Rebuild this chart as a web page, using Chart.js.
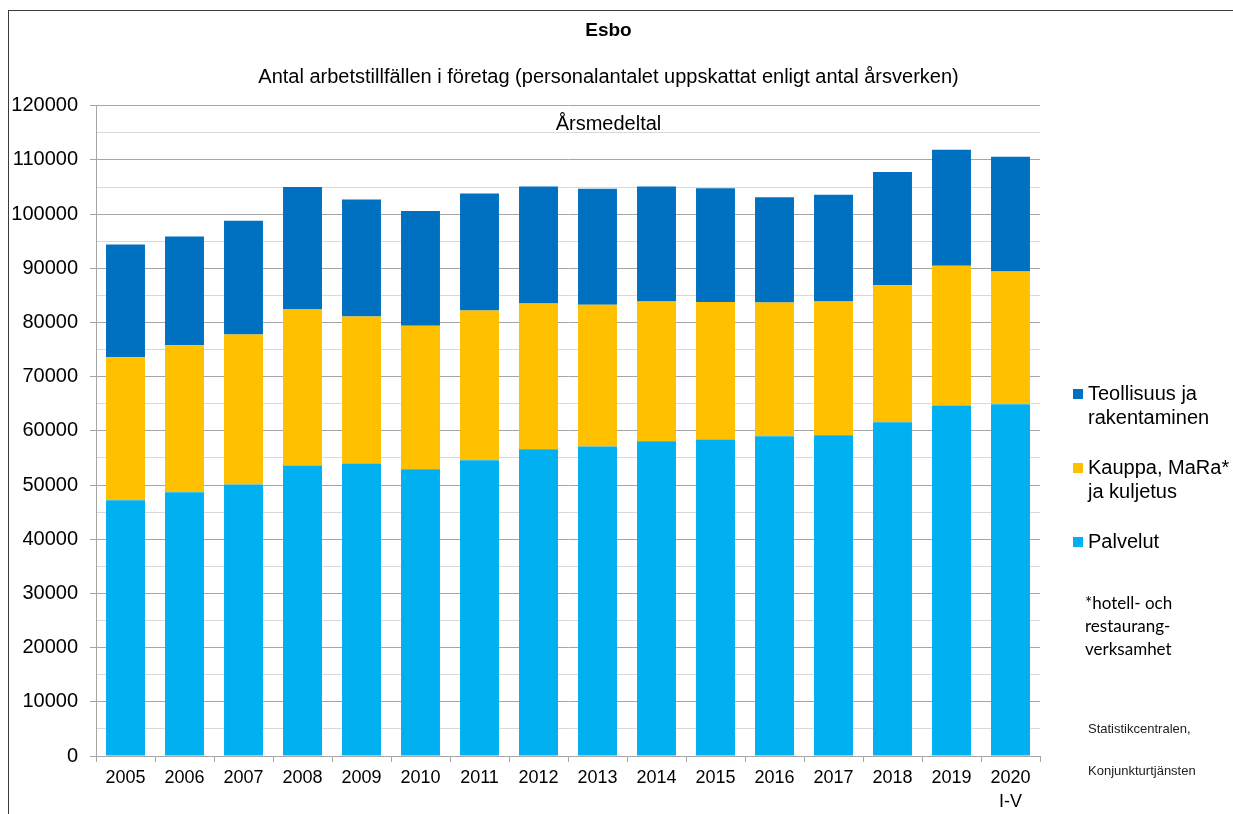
<!DOCTYPE html>
<html>
<head>
<meta charset="utf-8">
<script src="https://cdn.jsdelivr.net/npm/chart.js@4.4.1/dist/chart.umd.min.js"></script>
<style>
  html, body { margin: 0; padding: 0; background: #fff; }
  body { width: 1233px; height: 814px; position: relative; overflow: hidden; font-family: "Liberation Sans", Arial, sans-serif; }
  #frame { position: absolute; left: 8px; top: 10px; width: 1300px; height: 900px; border: 1px solid #3a3a3a; }
  #chart { position: absolute; left: 0; top: 0; }
  .box { position: absolute; left: 1073px; width: 10px; height: 10px; }
  .lg { position: absolute; left: 1088px; font-size: 20px; line-height: 24px; color: #000; white-space: nowrap; }
  #note { position: absolute; left: 1085px; top: 591px; font-family: Lato, "Open Sans", sans-serif; font-size: 17px; line-height: 23px; color: #000; }
  #source { position: absolute; left: 1088px; top: 708px; font-size: 13px; line-height: 42px; color: #222; }
</style>
</head>
<body>
<div id="frame"></div>
<canvas id="chart" width="1233" height="814"></canvas>
<div id="legend"></div>
<div id="note">*hotell- och<br>restaurang-<br>verksamhet</div>
<div id="source">Statistikcentralen,<br>Konjunkturtjänsten</div>
<script>
// years on the x axis (last one is a partial year)
const years = ['2005', '2006', '2007', '2008', '2009', '2010', '2011', '2012',
  '2013', '2014', '2015', '2016', '2017', '2018', '2019', ['2020', 'I-V']];

// jobs per sector
const palvelut = [47200, 48700, 50100, 53600, 54000, 52900, 54600, 56600,
  57100, 58100, 58400, 59000, 59200, 61600, 64700, 64900];
const kauppa = [26400, 27100, 27700, 28900, 27100, 26500, 27600, 26900,
  26200, 25800, 25400, 24700, 24700, 25300, 25800, 24500];
const teollisuus = [20800, 20100, 21000, 22500, 21600, 21200, 21600, 21600,
  21400, 21200, 21000, 19400, 19700, 20900, 21400, 21200];

const yTicks = [0, 10000, 20000, 30000, 40000, 50000, 60000, 70000, 80000, 90000, 100000, 110000, 120000];

const seriesNames = [['Palvelut'], ['Kauppa, MaRa*', 'ja kuljetus'], ['Teollisuus ja', 'rakentaminen']];
const seriesColors = ['#00b0f0', '#ffc000', '#0070c0'];

const FONT = '"Liberation Sans", Arial, sans-serif';

// text inside the plot area under the top gridline
const innerLabel = {
  id: 'innerLabel',
  afterDraw(chart) {
    const ctx = chart.ctx;
    const tb = chart.titleBlock;
    const cx = tb ? tb.left + tb.width / 2 : chart.width / 2;
    ctx.save();
    ctx.font = '20px ' + FONT;
    ctx.fillStyle = '#000';
    ctx.textAlign = 'center';
    ctx.textBaseline = 'middle';
    ctx.fillText('Årsmedeltal', cx, chart.chartArea.top + 19);
    ctx.restore();
  }
};

const ctx = document.getElementById('chart').getContext('2d');
const chart = new Chart(ctx, {
  type: 'bar',
  data: {
    labels: years,
    datasets: [palvelut, kauppa, teollisuus].map((d, i) => ({
      label: seriesNames[i].join(' '),
      data: d,
      backgroundColor: seriesColors[i],
      borderWidth: 0,
      categoryPercentage: 1,
      barPercentage: 0.66
    }))
  },
  options: {
    responsive: false,
    animation: false,
    devicePixelRatio: 1,
    layout: { padding: { left: 0, right: 16, top: 10, bottom: 0 } },
    plugins: {
      legend: { display: false },
      title: {
        display: true,
        text: 'Esbo',
        color: '#000',
        font: { family: FONT, size: 19, weight: 'bold' },
        padding: { top: 9, bottom: 24 }
      },
      subtitle: {
        display: true,
        text: 'Antal arbetstillfällen i företag (personalantalet uppskattat enligt antal årsverken)',
        color: '#000',
        font: { family: FONT, size: 20 },
        padding: { top: 0, bottom: 16 }
      }
    },
    scales: {
      x: {
        stacked: true,
        offset: true,
        afterFit: s => { s.height = 58; },
        grid: { drawOnChartArea: false, offset: true, tickLength: 6, color: '#a6a6a6' },
        border: { color: '#a6a6a6' },
        ticks: { color: '#000', font: { family: FONT, size: 18, lineHeight: 1.35 }, padding: 4, maxRotation: 0, autoSkip: false }
      },
      y: {
        stacked: true,
        min: 0,
        max: 120000,
        afterFit: s => { s.width = 96; },
        grid: {
          color: c => (c.tick && c.tick.value % 10000 === 0) ? '#a6a6a6' : '#d9d9d9',
          tickColor: c => (c.tick && c.tick.value % 10000 === 0) ? '#a6a6a6' : 'rgba(0,0,0,0)',
          tickLength: 6
        },
        border: { color: '#a6a6a6' },
        ticks: {
          stepSize: 5000,
          autoSkip: false,
          color: '#000',
          padding: 12,
          font: { family: FONT, size: 20 },
          callback: v => yTicks.includes(v) ? String(v) : ''
        }
      },
      side: {
        position: 'right',
        afterFit: s => { s.width = 177; },
        grid: { display: false },
        border: { display: false },
        ticks: { display: false }
      }
    }
  },
  plugins: [innerLabel]
});

// legend on the right, top series first
const legendTops = [529, 455, 381];
const legend = document.getElementById('legend');
chart.data.datasets.forEach((ds, i) => {
  const box = document.createElement('div');
  box.className = 'box';
  box.style.background = ds.backgroundColor;
  box.style.top = (legendTops[i] + 8) + 'px';
  legend.appendChild(box);
  const txt = document.createElement('div');
  txt.className = 'lg';
  txt.style.top = legendTops[i] + 'px';
  txt.innerHTML = seriesNames[i].join('<br>');
  legend.appendChild(txt);
});
</script>
</body>
</html>
